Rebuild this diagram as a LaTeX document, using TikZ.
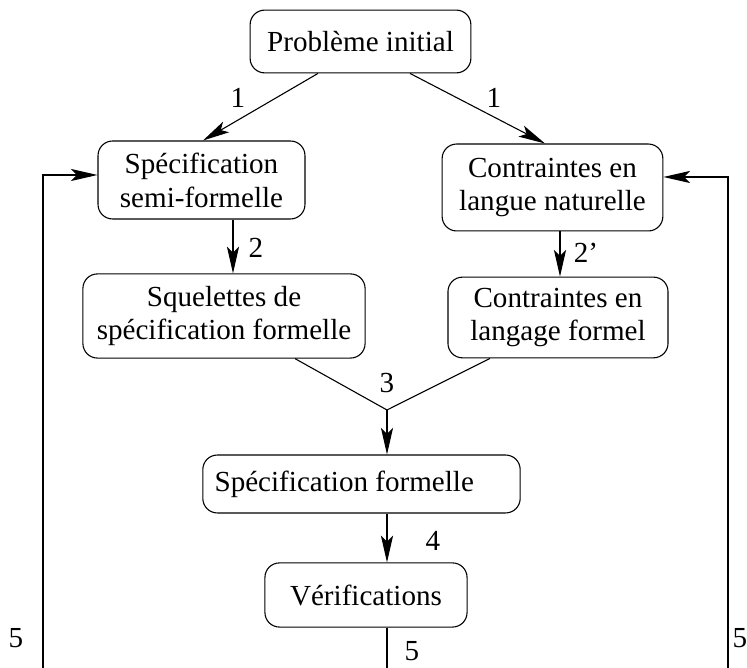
\documentclass[tikz,border=0pt]{standalone}
\usepackage{fontspec}
\setmainfont{Liberation Serif}
\usetikzlibrary{calc, positioning, arrows.meta}

\begin{document}
\begin{tikzpicture}[>={Stealth[length=11pt, width=5pt, inset=2.5pt]}, x=0.0145cm, y=-0.0145cm, line width=0.45pt,
    boite/.style={draw, rounded corners=6pt, align=center, inner sep=0pt, font=\fontsize{12}{14}\selectfont},
    etiq/.style={font=\fontsize{12}{14}\selectfont}]

    % =================================================================
    % 1. CADRE DE LA FIGURE
    % =================================================================
    \useasboundingbox (0,0) rectangle (747,668);

    % =================================================================
    % 2. LES BOITES
    % =================================================================
    \node[boite, minimum width=3.20cm, minimum height=0.91cm] (init) at (360.5,41.5) {Problème initial};
    \node[boite, minimum width=3.00cm, minimum height=1.13cm] (semi) at (201.5,180) {Spécification\\semi-formelle};
    \node[boite, minimum width=3.20cm, minimum height=1.26cm] (nat) at (552.5,187.5) {Contraintes en\\langue naturelle};
    \node[boite, minimum width=4.09cm, minimum height=1.22cm] (squel) at (224,316) {Squelettes de\\spécification formelle};
    \node[boite, minimum width=3.19cm, minimum height=1.17cm] (formel) at (558,317.5) {Contraintes en\\langage formel};
    \node[boite, minimum width=4.60cm, minimum height=0.84cm] (specf) at (361.5,484) {Spécification formelle\hspace*{0.5cm}};
    \node[boite, minimum width=2.93cm, minimum height=0.93cm] (verif) at (366,595) {Vérifications};

    % =================================================================
    % 3. LES FLECHES
    % =================================================================
    % etape 1
    \draw[->] ($(init.south)+(-42.5,0)$) -- ($(semi.north)+(1.5,0)$);
    \draw[->] ($(init.south)+(49.5,0)$) -- ($(nat.north)+(-7.5,0)$);

    % etapes 2 et 2'
    \coordinate (D2) at ($(semi.south)+(31.5,0)$);
    \draw[->] (D2) -- (D2 |- squel.north);
    \coordinate (D2b) at ($(nat.south)+(7.5,0)$);
    \draw[->] (D2b) -- (D2b |- formel.north);

    % etape 3 : fusion
    \coordinate (Jonction) at (387,410);
    \draw ($(squel.south)+(71,0)$) -- (Jonction);
    \draw ($(formel.south)+(-68,0)$) -- (Jonction);
    \draw[->] (Jonction) -- (Jonction |- specf.north);

    % etape 4
    \coordinate (D4) at (Jonction |- specf.south);
    \draw[->] (D4) -- (D4 |- verif.north);

    % etape 5 : retours
    \coordinate (D5) at (Jonction |- verif.south);
    \coordinate (Bas) at (387,668);
    \draw (D5) -- (Bas);
    \coordinate (RetourG) at (43,668);
    \draw[->] (RetourG) |- ($(semi.west)+(0,-5)$);
    \coordinate (RetourD) at (728,668);
    \draw[->] (RetourD) |- ($(nat.east)+(0,-10.5)$);

    % =================================================================
    % 4. NUMEROS DES ETAPES
    % =================================================================
    \node[etiq] (n1g) at (238,98) {1};
    \node[etiq] (n1d) at (494,98) {1};
    \node[etiq] (n2) at (256,248) {2};
    \node[etiq] (n2b) at (586,253) {2'};
    \node[etiq] (n3) at (387,383) {3};
    \node[etiq] (n4) at (433,541) {4};
    \node[etiq] (n5) at (412,651) {5};
    \node[etiq] (n5g) at (16,638) {5};
    \node[etiq] (n5d) at (740,638) {5};

\end{tikzpicture}
\end{document}
